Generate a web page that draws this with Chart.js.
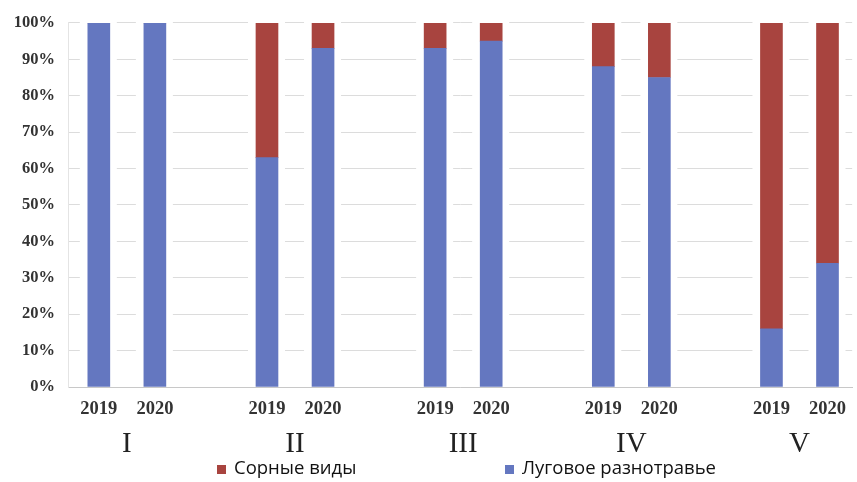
<!DOCTYPE html>
<html>
<head>
<meta charset="utf-8">
<script src="https://cdn.jsdelivr.net/npm/chart.js@4/dist/chart.umd.min.js"></script>
<style>
  html, body { margin: 0; padding: 0; background: #fff; overflow: hidden; }
  #wrap { width: 857px; height: 482px; }
</style>
</head>
<body>
<div id="wrap"><canvas id="c" width="857" height="482"></canvas></div>
<script>
// Plots I–V, two survey years each
const groups = ['I', 'II', 'III', 'IV', 'V'];
const years = ['2019', '2020'];
// Share of meadow forbs and of weeds, % (order: I-2019, I-2020, II-2019, ...)
const meadow = [100, 100, 63, 93, 93, 95, 88, 85, 16, 34];
const weeds  = [0, 0, 37, 7, 7, 5, 12, 15, 84, 66];
const seriesNames = ['Сорные виды', 'Луговое разнотравье'];
const yTickValues = [0, 10, 20, 30, 40, 50, 60, 70, 80, 90, 100];

const BLUE = '#6477c0';
const RED = '#a8443f';
const SERIF = '"Liberation Serif", "DejaVu Serif", serif';

// Each plot takes two slots followed by one empty slot
const slotOf = (g, y) => 3 * g + y;
const slots = [];
const yearBySlot = {};
groups.forEach((_, g) => years.forEach((yr, y) => {
  slots.push(slotOf(g, y));
  yearBySlot[slotOf(g, y)] = yr;
}));
const points = arr => arr.map((v, i) => ({ x: slots[i], y: v }));

const X_MIN = -0.55, X_MAX = 13.44;

// Gridlines stop a little short of each column
const gridGaps = {
  id: 'gridGaps',
  beforeDatasetsDraw(chart) {
    const { ctx, chartArea: a } = chart;
    ctx.save();
    ctx.fillStyle = '#ffffff';
    chart.getDatasetMeta(0).data.forEach(bar => {
      const w = bar.width;
      ctx.fillRect(bar.x - w / 2 - 8, a.top - 2, w + 15, a.bottom - a.top + 1);
    });
    ctx.restore();
  }
};

// Legend row under the axis titles
const bottomLegend = {
  id: 'bottomLegend',
  afterDraw(chart) {
    const { ctx } = chart;
    const items = [
      { text: seriesNames[0], color: RED, x: 217 },
      { text: seriesNames[1], color: BLUE, x: 505 }
    ];
    const y = 469;
    ctx.save();
    ctx.font = '18.5px "Open Sans", "Noto Sans", sans-serif';
    ctx.textBaseline = 'middle';
    ctx.textAlign = 'left';
    items.forEach(it => {
      ctx.fillStyle = it.color;
      ctx.fillRect(it.x, y - 4, 9, 9);
      ctx.fillStyle = '#111';
      ctx.fillText(it.text, it.x + 17, y);
    });
    ctx.restore();
  }
};

new Chart(document.getElementById('c'), {
  type: 'bar',
  data: {
    datasets: [
      { label: seriesNames[1], data: points(meadow), backgroundColor: BLUE, stack: 's', barThickness: 22, grouped: false },
      { label: seriesNames[0], data: points(weeds), backgroundColor: RED, stack: 's', barThickness: 22, grouped: false }
    ]
  },
  options: {
    responsive: false,
    animation: false,
    layout: { padding: { top: 21, right: 0, bottom: 24, left: 0 } },
    plugins: { legend: { display: false }, tooltip: { enabled: false } },
    scales: {
      x: {
        type: 'linear',
        position: 'bottom',
        min: X_MIN, max: X_MAX,
        offset: false,
        grid: { display: false, drawTicks: false },
        border: { display: true, color: '#c8c8c8' },
        afterBuildTicks: s => { s.ticks = slots.map(v => ({ value: v })); },
        ticks: {
          autoSkip: false, maxRotation: 0, padding: 11,
          color: '#333',
          font: { family: SERIF, size: 18.5, weight: 'bold' },
          callback: v => yearBySlot[v] || ''
        },
        afterFit: s => { s.height = 36; }
      },
      g: {
        type: 'linear',
        position: 'bottom',
        min: X_MIN, max: X_MAX,
        offset: false,
        grid: { display: false, drawTicks: false },
        border: { display: false },
        afterBuildTicks: s => { s.ticks = groups.map((_, i) => ({ value: 3 * i + 0.5 })); },
        ticks: {
          autoSkip: false, maxRotation: 0, padding: 4,
          color: '#222',
          font: { family: SERIF, size: 29 },
          callback: v => groups[Math.round((v - 0.5) / 3)]
        },
        afterFit: s => { s.height = 35; }
      },
      y: {
        stacked: true,
        min: 0, max: 100,
        afterBuildTicks: s => { s.ticks = yTickValues.map(v => ({ value: v })); },
        grid: { color: '#dcdcdc', drawTicks: false },
        border: { display: true, color: '#e4e4e4' },
        ticks: {
          padding: 13,
          color: '#333',
          font: { family: SERIF, size: 16.5, weight: 'bold' },
          callback: v => v + '%'
        },
        afterFit: s => { s.width = 68; }
      }
    }
  },
  plugins: [gridGaps, bottomLegend]
});
</script>
</body>
</html>
